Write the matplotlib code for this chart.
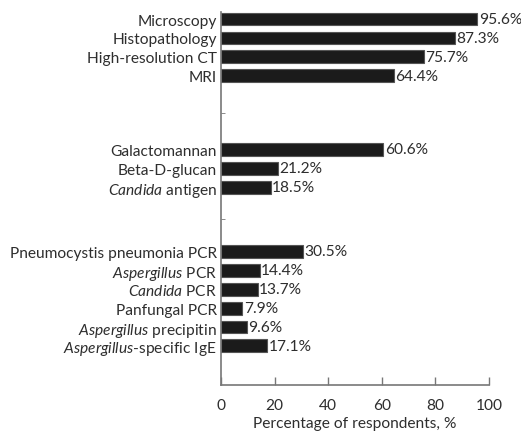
import matplotlib
matplotlib.use('Agg')
import matplotlib.pyplot as plt

plt.rcParams['font.family'] = ['Lato', 'DejaVu Sans']
plt.rcParams['mathtext.fontset'] = 'custom'
plt.rcParams['mathtext.rm'] = 'Lato'
plt.rcParams['mathtext.it'] = 'Lato:italic'

# three groups of tests, top to bottom
imaging_labels = ['Microscopy', 'Histopathology', 'High-resolution CT', 'MRI']
imaging_values = [95.6, 87.3, 75.7, 64.4]

antigen_labels = ['Galactomannan', 'Beta-D-glucan', r'$\mathit{Candida}$ antigen']
antigen_values = [60.6, 21.2, 18.5]

pcr_labels = ['Pneumocystis pneumonia PCR', r'$\mathit{Aspergillus}$ PCR',
              r'$\mathit{Candida}$ PCR', 'Panfungal PCR',
              r'$\mathit{Aspergillus}$ precipitin', r'$\mathit{Aspergillus}$-specific IgE']
pcr_values = [30.5, 14.4, 13.7, 7.9, 9.6, 17.1]

xticks = [0, 20, 40, 60, 80, 100]

groups = [(imaging_labels, imaging_values),
          (antigen_labels, antigen_values),
          (pcr_labels, pcr_values)]
gaps = [3.9, 3.4]

labels, values, pos, seps = [], [], [], []
y = 0.0
for g, (lab, val) in enumerate(groups):
    if g > 0:
        prev = y - 1
        y = prev + gaps[g - 1]
        seps.append((prev + y) / 2)
    for l, v in zip(lab, val):
        labels.append(l)
        values.append(v)
        pos.append(y)
        y += 1

fig = plt.figure(figsize=(5.21, 4.35), dpi=100)
ax = fig.add_axes([0.424, 0.1126, 0.5146, 0.8574])

txt = '#2e2e2e'
fs = 11.2
ax.barh(pos, values, height=0.68, color='#1b1b1b', edgecolor='#555555', linewidth=0.8)
for p, v in zip(pos, values):
    ax.text(v + 0.6, p, f'{v}%', va='center', ha='left', fontsize=fs, color=txt)

ax.set_ylim(pos[-1] + 2.07, -0.37)
ax.set_xlim(0, 100)
ax.set_yticks(pos)
ax.set_yticklabels(labels, fontsize=fs, color=txt)
ax.tick_params(axis='y', length=0, pad=3)
ax.set_yticks(seps, minor=True)
ax.tick_params(axis='y', which='minor', direction='in', length=3, color='#777777')

ax.set_xticks(xticks)
ax.set_xticklabels([str(t) for t in xticks], fontsize=fs, color=txt)
ax.tick_params(axis='x', direction='in', length=6, width=1, color='#777777', pad=9)
ax.set_xlabel('Percentage of respondents, %', fontsize=fs, color=txt, labelpad=3)

for s in ['top', 'right']:
    ax.spines[s].set_visible(False)
for s in ['left', 'bottom']:
    ax.spines[s].set_color('#777777')
    ax.spines[s].set_linewidth(1.2)

fig.savefig('out.png', dpi=100)
